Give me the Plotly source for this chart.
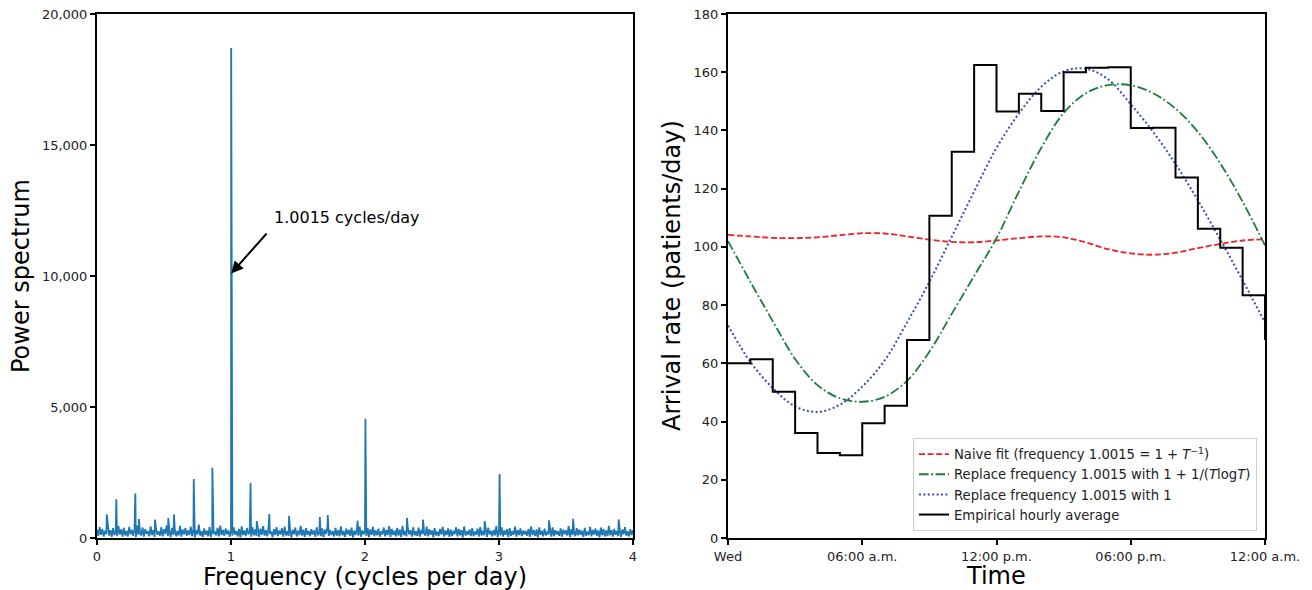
import plotly.graph_objects as go

# ---------------- Left panel: power spectrum ----------------
freq_step = 0.01  # cycles/day spacing of the background spectrum samples
noise_power = [
    320, 80, 410, 120, 350, 60, 280, 150, 430, 90, 300, 40, 380, 110, 260, 70, 450, 130, 330, 50,
    390, 100, 270, 60, 420, 140, 310, 80, 360, 30, 470, 120, 290, 90, 400, 50, 340, 160, 260, 70,
    440, 110, 300, 40, 370, 130, 250, 90, 410, 60, 330, 150, 480, 80, 280, 30, 390, 120, 350, 70,
    270, 100, 460, 50, 320, 140, 380, 80, 290, 110, 430, 60, 350, 20, 300, 130, 510, 90, 260, 40,
    370, 120, 280, 70, 420, 30, 330, 150, 250, 100, 390, 60, 470, 110, 310, 80, 360, 140, 290, 50,
    310, 90, 400, 130, 270, 60, 350, 20, 440, 110, 290, 70, 380, 140, 260, 50, 420, 100, 330, 80,
    280, 40, 360, 120, 450, 90, 300, 60, 390, 150, 250, 30, 340, 110, 410, 70, 290, 130, 370, 50,
    430, 100, 260, 80, 350, 20, 310, 140, 400, 60, 280, 110, 460, 90, 320, 40, 380, 120, 270, 70,
    340, 130, 290, 50, 410, 100, 250, 70, 370, 30, 320, 150, 420, 80, 300, 110, 260, 60, 390, 90,
    300, 60, 440, 110, 270, 40, 360, 130, 310, 80, 400, 20, 280, 120, 350, 90, 430, 50, 290, 140,
    260, 80, 380, 30, 330, 120, 420, 70, 290, 100, 360, 50, 250, 140, 400, 60, 310, 110, 450, 40,
    350, 120, 280, 60, 390, 90, 320, 30, 460, 110, 270, 70, 370, 130, 300, 50, 410, 100, 260, 80,
    400, 50, 310, 140, 260, 90, 430, 60, 340, 120, 290, 30, 380, 100, 250, 70, 350, 130, 420, 60,
    290, 110, 370, 40, 320, 80, 270, 150, 410, 60, 350, 100, 300, 20, 440, 90, 260, 120, 330, 70,
    380, 70, 250, 130, 360, 50, 420, 90, 280, 110, 330, 40, 390, 140, 270, 60, 310, 100, 460, 30,
    320, 100, 410, 60, 290, 120, 340, 30, 380, 80, 260, 130, 430, 50, 300, 110, 370, 70, 280, 140,
    270, 90, 350, 40, 440, 110, 300, 70, 330, 20, 400, 120, 280, 60, 360, 100, 250, 130, 390, 50,
    410, 60, 300, 130, 260, 80, 370, 50, 320, 140, 290, 90, 450, 30, 340, 110, 270, 70, 380, 100,
    330, 120, 280, 40, 390, 90, 250, 110, 420, 60, 310, 130, 360, 80, 290, 20, 400, 100, 350, 60,
    290, 70, 460, 100, 300, 50, 350, 120, 270, 80, 380, 40, 320, 140, 410, 90, 260, 60, 340, 110,
    300,
]
spike_freqs = [0.073, 0.144, 0.286, 0.313, 0.433, 0.532, 0.575, 0.722, 0.861, 1.0015,
               1.146, 1.192, 1.286, 1.433, 1.663, 1.722, 1.945, 2.003, 2.313, 2.433,
               2.893, 3.0045, 3.373, 3.553, 3.893]
spike_power = [900, 1480, 1700, 720, 700, 760, 900, 2250, 2680, 18700,
               2100, 645, 915, 850, 800, 880, 670, 4550, 760, 700,
               645, 2440, 670, 735, 710]

pts = {}
for i, p in enumerate(noise_power):
    pts[round(i * freq_step, 4)] = p
for f, p in zip(spike_freqs, spike_power):
    pts[round(f, 4)] = p
spec_f = sorted(pts)
spec_p = [pts[f] for f in spec_f]

annot_text = "1.0015 cycles/day"
peak_freq = 1.0015

# ---------------- Right panel: arrival rates ----------------
hours = list(range(25))
naive_fit = [104.1, 103.6, 103.1, 103.0, 103.3, 104.0, 104.7, 104.6, 103.6, 102.5,
             101.7, 101.6, 102.2, 103.0, 103.6, 103.3, 101.5, 99.2, 97.8, 97.3,
             98.0, 99.6, 101.0, 102.2, 102.6]
tlogt_fit = [102.0, 88.0, 74.5, 61.5, 52.5, 48.0, 46.8, 48.5, 54.0, 64.0,
             77.0, 90.0, 103.0, 119.0, 134.0, 146.0, 152.8, 155.6, 155.5, 152.8,
             147.5, 139.5, 128.7, 115.5, 100.5]
freq1_fit = [73.0, 60.5, 51.5, 45.2, 43.3, 45.8, 52.0, 61.0, 74.0, 88.0,
             103.5, 119.0, 134.0, 145.8, 155.0, 160.3, 161.2, 157.5, 149.0, 139.5,
             128.5, 116.0, 102.5, 88.5, 74.0]
hourly_avg = [60.0, 61.4, 50.2, 36.1, 29.2, 28.4, 39.4, 45.4, 68.0, 110.7,
              132.7, 162.5, 146.5, 152.6, 146.7, 160.0, 161.5, 161.7, 140.8, 140.9,
              123.8, 106.2, 99.7, 83.4, 68.0]
time_ticks = [0, 6, 12, 18, 24]
time_labels = ["Wed", "06:00 a.m.", "12:00 p.m.", "06:00 p.m.", "12:00 a.m."]

names = ["Naive fit (frequency 1.0015 = 1 + <i>T</i><sup>\u22121</sup>)",
         "Replace frequency 1.0015 with 1 + 1/(<i>T</i>log<i>T</i>)",
         "Replace frequency 1.0015 with 1",
         "Empirical hourly average"]

W, H = 1312, 590
FONT = "DejaVu Sans"

fig = go.Figure()
fig.add_trace(go.Scatter(x=spec_f, y=spec_p, mode="lines", xaxis="x", yaxis="y",
                         line=dict(color="#1f77b4", width=1.8), showlegend=False))
fig.add_trace(go.Scatter(x=hours, y=naive_fit, mode="lines", xaxis="x2", yaxis="y2",
                         line=dict(color="#ee2222", width=1.8, dash="6px,2.6px", shape="spline"),
                         name=names[0]))
fig.add_trace(go.Scatter(x=hours, y=tlogt_fit, mode="lines", xaxis="x2", yaxis="y2",
                         line=dict(color="#1a7d3c", width=1.8, dash="9.6px,2.6px,1.8px,2.6px",
                                   shape="spline"),
                         name=names[1]))
fig.add_trace(go.Scatter(x=hours, y=freq1_fit, mode="lines", xaxis="x2", yaxis="y2",
                         line=dict(color="#3b4fb0", width=2, dash="2px,2.4px", shape="spline"),
                         name=names[2]))
fig.add_trace(go.Scatter(x=hours, y=hourly_avg, mode="lines", xaxis="x2", yaxis="y2",
                         line=dict(color="black", width=2, shape="hv"),
                         name=names[3]))

def px(x):
    return x / W

def py(y):
    return 1 - y / H

axis_common = dict(showgrid=False, zeroline=False, showline=True, mirror=True,
                   linecolor="black", linewidth=2, ticks="outside", ticklen=5,
                   tickwidth=2, tickcolor="black", automargin=False,
                   tickfont=dict(family=FONT, size=13, color="#222222"))

fig.update_layout(
    width=W, height=H, margin=dict(l=0, r=0, t=0, b=0, autoexpand=False),
    paper_bgcolor="white", plot_bgcolor="white",
    font=dict(family=FONT, color="black"),
    xaxis=dict(domain=[px(97), px(633)], range=[0, 4], tickvals=[0, 1, 2, 3, 4],
               anchor="y", **axis_common),
    yaxis=dict(domain=[py(538), py(14)], range=[0, 20000],
               tickvals=[0, 5000, 10000, 15000, 20000], tickformat=",",
               anchor="x", **axis_common),
    xaxis2=dict(domain=[px(728), px(1265)], range=[0, 24], tickvals=time_ticks,
                ticktext=time_labels, anchor="y2", **axis_common),
    yaxis2=dict(domain=[py(538), py(14)], range=[0, 180], dtick=20,
                anchor="x2", **axis_common),
    legend=dict(x=px(1257), y=py(531), xanchor="right", yanchor="bottom",
                bgcolor="rgba(255,255,255,0.85)", bordercolor="#cccccc", borderwidth=1,
                font=dict(family=FONT, size=13.2, color="#222222"),
                tracegroupgap=0, itemwidth=30),
    showlegend=True,
)

title_font = dict(family=FONT, size=24, color="black")
fig.add_annotation(text="Power spectrum", x=px(21), y=py(276), xref="paper", yref="paper",
                   xanchor="center", yanchor="middle",
                   textangle=-90, showarrow=False, font=title_font)
fig.add_annotation(text="Frequency (cycles per day)", x=px(365), y=py(577), xref="paper",
                   yref="paper", xanchor="center", yanchor="middle",
                   showarrow=False, font=title_font)
fig.add_annotation(text="Arrival rate (patients/day)", x=px(672), y=py(276), xref="paper",
                   yref="paper", xanchor="center", yanchor="middle",
                   textangle=-90, showarrow=False, font=title_font)
fig.add_annotation(text="Time", x=px(996), y=py(576), xref="paper", yref="paper",
                   xanchor="center", yanchor="middle",
                   showarrow=False, font=title_font)

# peak annotation
fig.add_annotation(text=annot_text, x=1.306, y=12214, xref="x", yref="y",
                   xanchor="left", yanchor="middle", showarrow=False,
                   font=dict(family=FONT, size=16, color="black"))
fig.add_annotation(text="", x=peak_freq, y=10100, ax=1.276, ay=11680, xref="x", yref="y",
                   axref="x", ayref="y", showarrow=True, arrowhead=2, arrowsize=1.2,
                   arrowwidth=2, arrowcolor="black")

fig.write_html("out.html")
